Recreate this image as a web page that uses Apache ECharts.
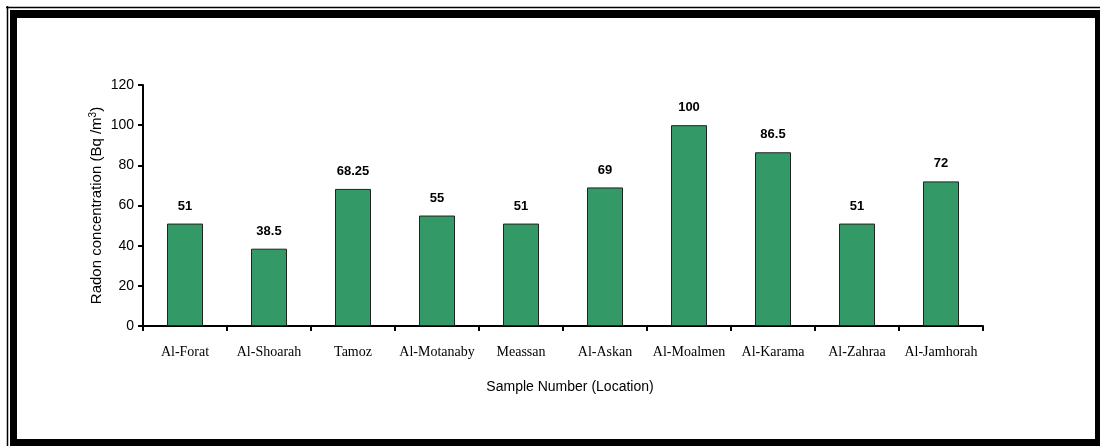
<!DOCTYPE html>
<html>
<head>
<meta charset="utf-8">
<script src="https://cdn.jsdelivr.net/npm/echarts@6/dist/echarts.min.js"></script>
<style>
  html, body { margin: 0; padding: 0; background: #fff; }
  #chart { width: 1100px; height: 446px; }
</style>
</head>
<body>
<div id="chart"></div>
<script>
// Sampling locations and their measured radon concentrations (Bq/m3)
const locations = ['Al-Forat', 'Al-Shoarah', 'Tamoz', 'Al-Motanaby', 'Meassan',
  'Al-Askan', 'Al-Moalmen', 'Al-Karama', 'Al-Zahraa', 'Al-Jamhorah'];
const radon = [51, 38.5, 68.25, 55, 51, 69, 100, 86.5, 51, 72];
const yTicks = { min: 0, max: 120, interval: 20 };

const chart = echarts.init(document.getElementById('chart'), null, { renderer: 'canvas' });

chart.setOption({
  backgroundColor: '#fff',
  animation: false,
  graphic: [
    // double frame: thin outer rule plus heavy inner border
    { type: 'line', shape: { x1: 6, y1: 7.5, x2: 1100, y2: 7.5 }, style: { stroke: '#000', lineWidth: 1.5 }, z: 0 },
    { type: 'line', shape: { x1: 7.5, y1: 6, x2: 7.5, y2: 446 }, style: { stroke: '#000', lineWidth: 1.5 }, z: 0 },
    { type: 'rect', shape: { x: 10, y: 10, width: 1090, height: 436 }, style: { fill: '#000' }, z: 0 },
    { type: 'rect', shape: { x: 17, y: 18, width: 1078, height: 421 }, style: { fill: '#fff' }, z: 0 }
  ],
  grid: { left: 143, right: 117, top: 85, bottom: 120, containLabel: false },
  xAxis: {
    type: 'category',
    data: locations,
    name: 'Sample Number (Location)',
    nameLocation: 'middle',
    nameGap: 54,
    nameTextStyle: { fontFamily: 'Liberation Sans, Arial, sans-serif', fontSize: 14, color: '#000', padding: [0, 0, 0, 14] },
    axisLine: { lineStyle: { color: '#000', width: 2 } },
    axisTick: { show: true, interval: 0, alignWithLabel: false, length: 5, lineStyle: { color: '#000', width: 2 } },
    axisLabel: { interval: 0, margin: 19, fontFamily: 'Liberation Serif, Times New Roman, serif', fontSize: 14, color: '#000' }
  },
  yAxis: {
    type: 'value',
    min: yTicks.min,
    max: yTicks.max,
    interval: yTicks.interval,
    name: '{n|Radon concentration (Bq /m}{s|3}{n|)}',
    nameLocation: 'middle',
    nameGap: 37,
    nameMoveOverlap: false,
    nameRotate: 90,
    nameTextStyle: {
      rich: {
        n: { fontFamily: 'Liberation Sans, Arial, sans-serif', fontSize: 15, color: '#000' },
        s: { fontFamily: 'Liberation Sans, Arial, sans-serif', fontSize: 10, color: '#000', verticalAlign: 'top', padding: [0, 0, 8, 0] }
      }
    },
    splitLine: { show: false },
    axisLine: { show: true, lineStyle: { color: '#000', width: 2 } },
    axisTick: { show: true, length: 5, lineStyle: { color: '#000', width: 2 } },
    axisLabel: { margin: 9, fontFamily: 'Liberation Sans, Arial, sans-serif', fontSize: 14, color: '#000' }
  },
  series: [{
    type: 'bar',
    data: radon,
    barWidth: 36,
    itemStyle: { color: '#339966', borderColor: '#222', borderWidth: 1 },
    label: {
      show: true,
      position: 'top',
      distance: 11,
      fontFamily: 'Liberation Sans, Arial, sans-serif',
      fontWeight: 'bold',
      fontSize: 13,
      color: '#000'
    }
  }]
});
</script>
</body>
</html>
